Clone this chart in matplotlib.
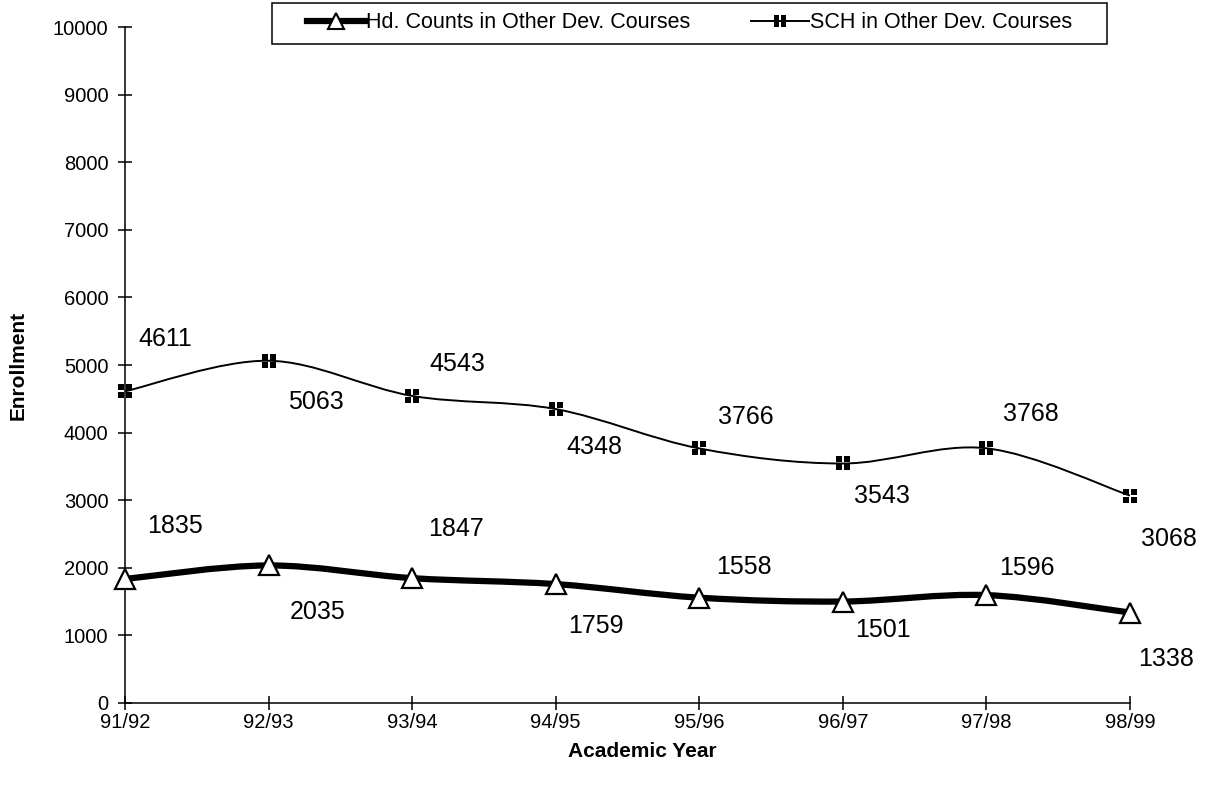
import numpy as np
import matplotlib
matplotlib.use("Agg")
import matplotlib.pyplot as plt
from matplotlib.path import Path
from matplotlib.patches import PathPatch, Rectangle
from matplotlib.lines import Line2D

plt.rcParams['font.family'] = ['Liberation Sans', 'DejaVu Sans']

# Data
years = ["91/92", "92/93", "93/94", "94/95", "95/96", "96/97", "97/98", "98/99"]
hd_counts = [1835, 2035, 1847, 1759, 1558, 1501, 1596, 1338]
sch = [4611, 5063, 4543, 4348, 3766, 3543, 3768, 3068]

# label offsets (pixels) relative to each point
hd_offsets = [(50, 53), (49, -47), (44, 49), (40, -42), (45, 31), (40, -28), (40, 27), (36, -46)]
sch_offsets = [(40, 52), (47, -41), (45, 32), (39, -38), (47, 31), (39, -33), (44, 34), (39, -43)]


def smooth_path(x, y):
    # Excel-style smoothed line: cubic Bezier through the data points
    pts = np.column_stack([x, y]).astype(float)
    n = len(pts)
    verts = [pts[0]]
    codes = [Path.MOVETO]
    for i in range(n - 1):
        p0 = pts[max(i - 1, 0)]
        p1 = pts[i]
        p2 = pts[i + 1]
        p3 = pts[min(i + 2, n - 1)]
        verts += [p1 + (p2 - p0) / 6, p2 - (p3 - p1) / 6, p2]
        codes += [Path.CURVE4] * 3
    return Path(verts, codes)


def four_squares():
    verts, codes = [], []
    for cx in (-0.6, 0.6):
        for cy in (-0.6, 0.6):
            h = 0.4
            verts += [(cx - h, cy - h), (cx + h, cy - h), (cx + h, cy + h), (cx - h, cy + h), (cx - h, cy - h)]
            codes += [Path.MOVETO, Path.LINETO, Path.LINETO, Path.LINETO, Path.CLOSEPOLY]
    return Path(verts, codes)


sq_marker = four_squares()
x = np.arange(len(years))

fig = plt.figure(figsize=(12.05, 7.93), dpi=100)
ax = fig.add_axes([125 / 1205, 1 - 703 / 793, 1005 / 1205, 676 / 793])

# SCH line (thin)
ax.add_patch(PathPatch(smooth_path(x, sch), fill=False, lw=1.4, color='black', zorder=2))
ax.plot(x, sch, linestyle='none', marker=sq_marker, markersize=10.5,
        color='black', markeredgewidth=0, zorder=3, clip_on=False)

# Head counts line (thick)
ax.add_patch(PathPatch(smooth_path(x, hd_counts), fill=False, lw=4.5, color='black',
                       capstyle='butt', joinstyle='round', zorder=2))
ax.plot(x, hd_counts, linestyle='none', marker='^', markersize=15, markerfacecolor='white',
        markeredgecolor='black', markeredgewidth=1.6, zorder=3, clip_on=False)

for xi, v, off in zip(x, sch, sch_offsets):
    ax.annotate(str(v), (xi, v), xytext=off, textcoords='offset pixels',
                ha='center', va='center', fontsize=18)
for xi, v, off in zip(x, hd_counts, hd_offsets):
    ax.annotate(str(v), (xi, v), xytext=off, textcoords='offset pixels',
                ha='center', va='center', fontsize=18)

ax.set_xlim(0, len(years) - 1)
ax.set_ylim(0, 10000)
ax.set_xticks(x)
ax.set_xticklabels(years)
ax.set_yticks(np.arange(0, 10001, 1000))
ax.tick_params(axis='both', direction='inout', length=10, width=1.1, labelsize=14.5)
ax.tick_params(axis='y', pad=7)
ax.tick_params(axis='x', pad=2.5)
for s in ['top', 'right']:
    ax.spines[s].set_visible(False)
for s in ['left', 'bottom']:
    ax.spines[s].set_linewidth(1.1)

ax.set_xlabel('Academic Year', fontsize=15, fontweight='bold')
ax.set_ylabel('Enrollment', fontsize=15, fontweight='bold')
ax.xaxis.set_label_coords((642 - 125) / 1005, -(742 - 703) / 676)
ax.yaxis.set_label_coords((28 - 125) / 1005, 0.5)

# Legend
handles = [
    Line2D([], [], color='black', lw=4.5, marker='^', markersize=12,
           markerfacecolor='white', markeredgecolor='black', markeredgewidth=1.5),
    Line2D([], [], color='black', lw=1.4, marker=sq_marker, markersize=9,
           markeredgewidth=0),
]
labels = ['Hd. Counts in Other Dev. Courses', 'SCH in Other Dev. Courses']
fig.legend(handles, labels, loc='center left', bbox_to_anchor=(307 / 1205, 1 - 23 / 793),
           ncol=2, frameon=False, fontsize=15.5, handlelength=2.7, handletextpad=0.05,
           columnspacing=2.8, borderpad=0, borderaxespad=0)
fig.add_artist(Rectangle((272 / 1205, 1 - 44 / 793), 835 / 1205, 41 / 793,
                         transform=fig.transFigure, fill=False, lw=1.1, color='black'))

fig.savefig('out.png', dpi=100)
